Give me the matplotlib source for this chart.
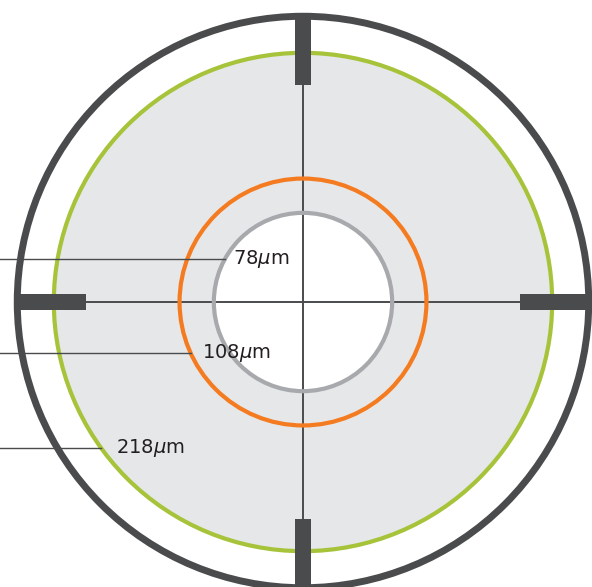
import numpy as np
from matplotlib import pyplot as plt
from matplotlib.patches import Circle, Rectangle

# diameters shown on the target (um)
sizes_um = [78, 108, 218]
size_labels = ["78$\\mu$m", "108$\\mu$m", "218$\\mu$m"]
ring_colors = ["#a7a9ac", "#f47b20", "#a6c33a"]
outer_r = 250

dark = "#4a4b4d"
fill = "#e6e7e9"
scale = 1.143  # px per unit

fig = plt.figure(figsize=(5.92, 5.87), dpi=100)
ax = fig.add_axes([0, 0, 1, 1])
ax.set_xlim(-303 / scale, (592 - 303) / scale)
ax.set_ylim(-(587 - 302) / scale, 302 / scale)
ax.set_aspect("equal")
ax.axis("off")

# filled disc inside the green ring, white core
ax.add_patch(Circle((0, 0), sizes_um[2], facecolor=fill, edgecolor="none", zorder=1))
ax.add_patch(Circle((0, 0), sizes_um[0], facecolor="white", edgecolor="none", zorder=2))

# crosshair
ax.plot([0, 0], [-outer_r, outer_r], color=dark, lw=1.4, zorder=3)
ax.plot([-outer_r, outer_r], [0, 0], color=dark, lw=1.4, zorder=3)

# rings
for r, c in zip(sizes_um, ring_colors):
    ax.add_patch(Circle((0, 0), r, fill=False, edgecolor=c, lw=3, zorder=4))
ax.add_patch(Circle((0, 0), outer_r, fill=False, edgecolor=dark, lw=5, zorder=4))

# thick tick marks
tick_len, tick_w, over = 60, 14, 2
for ang in [0, 90, 180, 270]:
    if ang in (90, 270):
        x0 = -tick_w / 2
        y0 = outer_r - tick_len if ang == 90 else -outer_r - over
        w, h = tick_w, tick_len + over
    else:
        y0 = -tick_w / 2
        x0 = outer_r - tick_len if ang == 0 else -outer_r - over
        w, h = tick_len + over, tick_w
    ax.add_patch(Rectangle((x0, y0), w, h, facecolor=dark, edgecolor="none", zorder=5))

# leader lines + labels
label_y = [37.6, -44.6, -127.7]
label_gap = [7, 10, 13]
xmin = ax.get_xlim()[0]
for r, lab, y, g in zip(sizes_um, size_labels, label_y, label_gap):
    xe = -np.sqrt(r ** 2 - y ** 2)
    ax.plot([xmin, xe], [y, y], color=dark, lw=1.0, zorder=6)
    ax.text(xe + g, y, lab, fontsize=14, color="#231f20", va="center", ha="left",
            fontweight="medium", zorder=7)

fig.savefig("out.png", dpi=100)
